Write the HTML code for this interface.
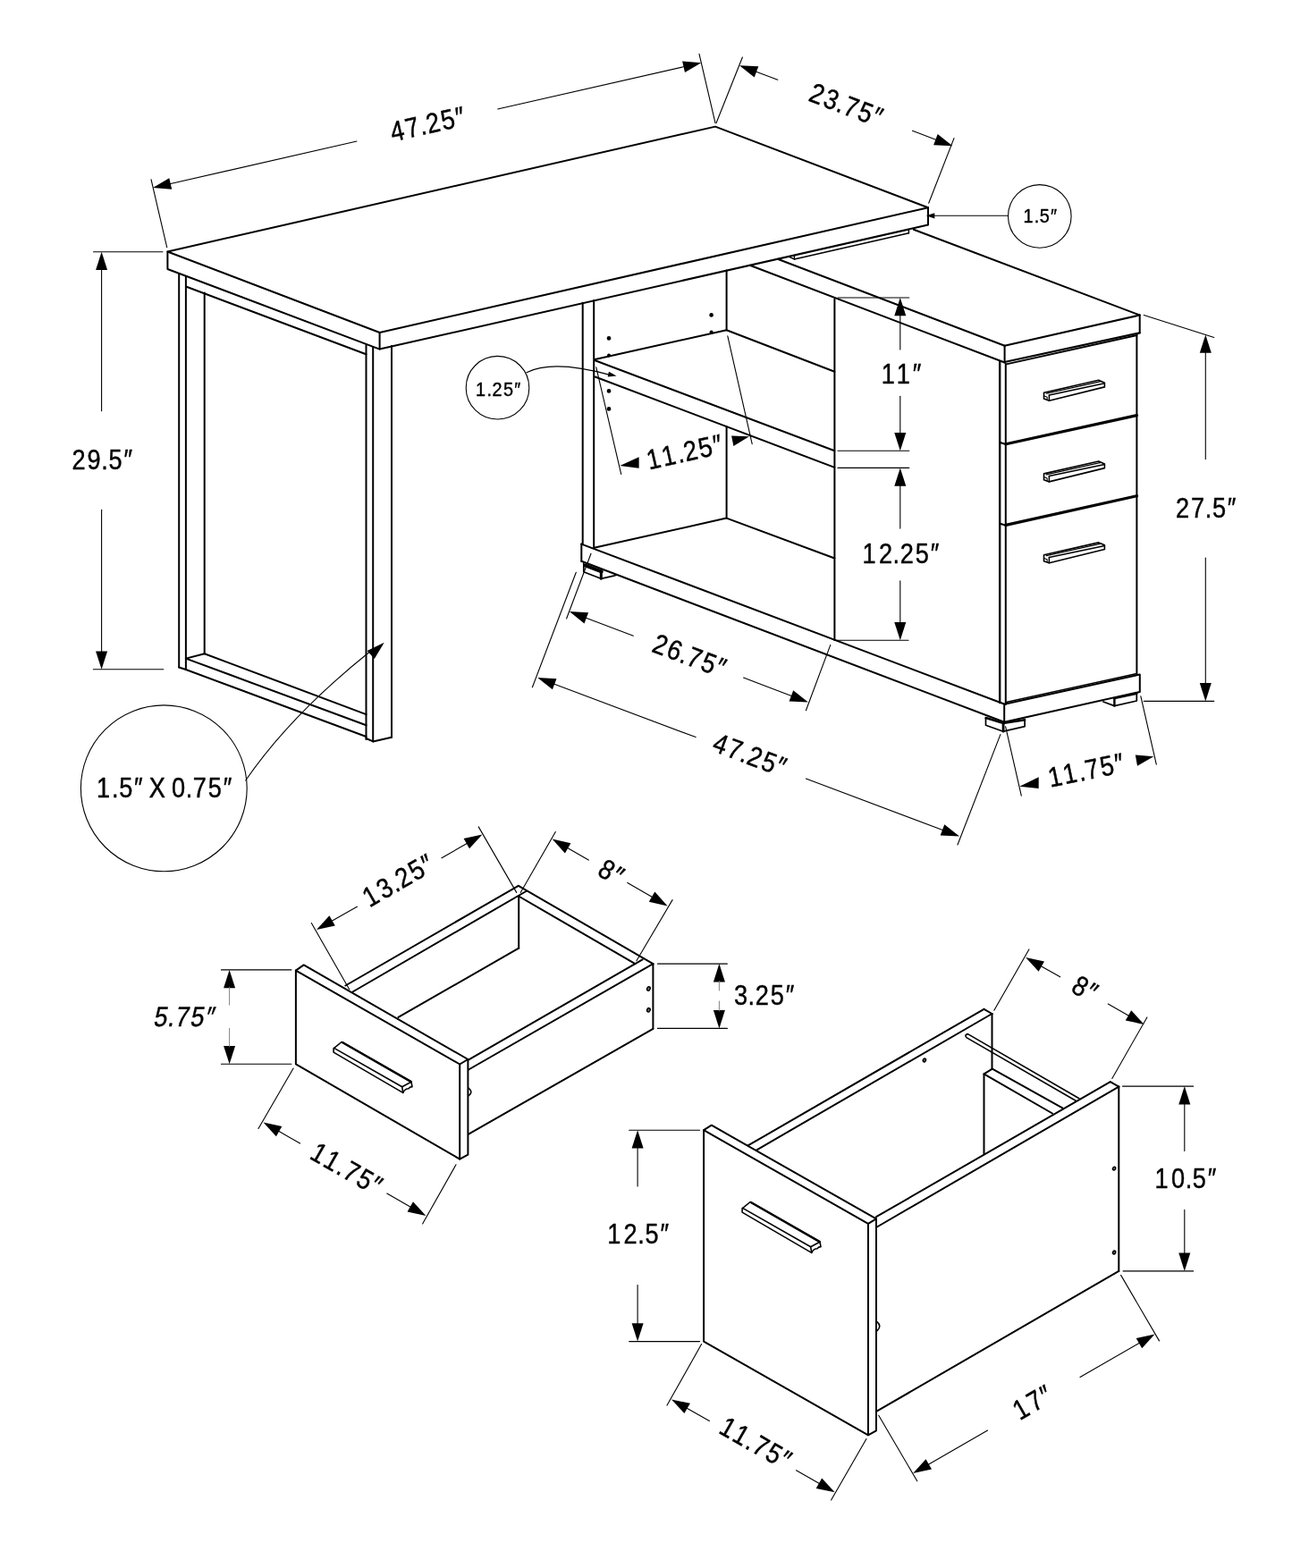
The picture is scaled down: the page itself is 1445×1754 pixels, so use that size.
<!DOCTYPE html>
<html lang="en"><head><meta charset="utf-8"><title>Desk dimensions</title>
<style>
html,body{margin:0;padding:0;background:#fff}
svg{display:block;will-change:transform}
text{font-family:"Liberation Sans",sans-serif;fill:#000;stroke:#000;stroke-width:0.45px}
</style></head>
<body>
<svg width="1445" height="1754" viewBox="0 0 1445 1754" fill="none" stroke="#000" stroke-linecap="round" stroke-linejoin="round">
<rect width="1445" height="1754" fill="#fff" stroke="none"/>
<path d="M187.4 281.5 L800 141.6 L1038 232.2 L424.6 372 Z" stroke-width="2" fill="none"/>
<path d="M187.4 281.5 L187.4 301 L424.6 390.6 L1038 251.6 L1038 232.2" stroke-width="2" fill="none"/>
<line x1="424.6" y1="372" x2="424.6" y2="390.6" stroke-width="2"/>
<line x1="200.2" y1="306" x2="200.2" y2="746.5" stroke-width="2"/>
<line x1="207.9" y1="309" x2="207.9" y2="749" stroke-width="2"/>
<line x1="228.7" y1="327.5" x2="228.7" y2="731.3" stroke-width="2"/>
<line x1="207.9" y1="320.5" x2="409.4" y2="396.3" stroke-width="2"/>
<line x1="409.5" y1="386" x2="409.5" y2="827" stroke-width="2"/>
<line x1="417.2" y1="388.2" x2="417.2" y2="829.4" stroke-width="2"/>
<line x1="438" y1="387" x2="438" y2="824.7" stroke-width="2"/>
<line x1="228.7" y1="731.2" x2="409.5" y2="799.1" stroke-width="2"/>
<line x1="207.9" y1="736.6" x2="409.5" y2="811.3" stroke-width="2"/>
<line x1="207.9" y1="749" x2="409.5" y2="824" stroke-width="2"/>
<line x1="200.2" y1="746.5" x2="207.9" y2="749" stroke-width="2"/>
<line x1="207.9" y1="736.6" x2="228.7" y2="731.2" stroke-width="2"/>
<path d="M409.5 826 L417.2 829.4 L438 824.7" stroke-width="2" fill="none"/>
<circle cx="183.3" cy="881.8" r="92.9" stroke-width="1.1" fill="none"/>
<text transform="translate(184.2 881.2) rotate(0) scale(0.87 1)" x="-87.6 -68.1 -58.7 -39.3 -28.2 -20.2 -0 8.9 27 36.4 55.9 75.3" y="10.7" font-size="31.2">1.5″ X 0.75″</text>
<path d="M274.7 873 Q325 800 413 729.5" stroke-width="1.1" fill="none"/>
<path d="M429.7 718.7 L418.8 736.9 L410.6 727.9 Z" fill="#000" stroke="none"/>
<line x1="104.5" y1="281.7" x2="182" y2="281.7" stroke-width="1.1"/>
<line x1="104.3" y1="748.8" x2="182.8" y2="748.8" stroke-width="1.1"/>
<path d="M113.6 281.7 L120.1 302 L107.1 302 Z" fill="#000" stroke="none"/>
<path d="M113.6 748.8 L107.1 728.5 L120.1 728.5 Z" fill="#000" stroke="none"/>
<line x1="113.6" y1="301" x2="113.6" y2="459.8" stroke-width="1.1"/>
<line x1="113.6" y1="570.2" x2="113.6" y2="729.5" stroke-width="1.1"/>
<text transform="translate(114.2 514.2) rotate(0) scale(0.87 1)" x="-38.6 -19.1 -1 8.4 27.8" y="10.7" font-size="31.2">29.5″</text>
<line x1="169" y1="200.7" x2="186.7" y2="276.7" stroke-width="1.1"/>
<line x1="782" y1="60.4" x2="800" y2="137.7" stroke-width="1.1"/>
<path d="M171 210 L189.3 199.2 L192.2 211.8 Z" fill="#000" stroke="none"/>
<path d="M784.3 70.2 L766 81 L763.1 68.4 Z" fill="#000" stroke="none"/>
<line x1="189.8" y1="205.7" x2="399" y2="158" stroke-width="1.1"/>
<line x1="556.7" y1="122" x2="765.5" y2="74.5" stroke-width="1.1"/>
<text transform="translate(478 138.8) rotate(-12.8) scale(0.87 1)" x="-48.4 -28.8 -10.8 -1.4 18.2 37.6" y="10.7" font-size="31.2">47.25″</text>
<line x1="830.4" y1="64" x2="801" y2="137.7" stroke-width="1.1"/>
<line x1="1067" y1="154.6" x2="1038.7" y2="227.3" stroke-width="1.1"/>
<path d="M827 73.2 L848.3 74.3 L843.7 86.5 Z" fill="#000" stroke="none"/>
<path d="M1065.4 163.3 L1044.1 162.2 L1048.7 150 Z" fill="#000" stroke="none"/>
<line x1="845.1" y1="80" x2="869.8" y2="89.2" stroke-width="1.1"/>
<line x1="1020.5" y1="146.3" x2="1047.3" y2="156.5" stroke-width="1.1"/>
<text transform="translate(946.2 117.3) rotate(20.8) scale(0.87 1)" x="-48.4 -28.8 -10.8 -1.4 18.2 37.6" y="10.7" font-size="31.2">23.75″</text>
<circle cx="1162.8" cy="241.9" r="35.3" stroke-width="1.1" fill="none"/>
<text transform="translate(1163.6 241.6) rotate(0) scale(0.87 1)" x="-22.1 -7.9 -1 13.2" y="7.8" font-size="22.8">1.5″</text>
<line x1="1127.4" y1="241.3" x2="1043" y2="241.3" stroke-width="1.1"/>
<path d="M1035.8 241.3 L1045.3 238.2 L1045.3 244.4 Z" fill="#000" stroke="none"/>
<line x1="888.4" y1="289.9" x2="1016.4" y2="260.8" stroke-width="1.5"/>
<line x1="882" y1="287" x2="888.4" y2="289.9" stroke-width="1.5"/>
<line x1="1016.4" y1="256.5" x2="1016.4" y2="260.8" stroke-width="1.5"/>
<line x1="888.4" y1="286.3" x2="888.4" y2="289.9" stroke-width="1.3"/>
<line x1="1021.8" y1="256.7" x2="1274.7" y2="352.5" stroke-width="2"/>
<line x1="1274.7" y1="352.5" x2="1274.7" y2="372.3" stroke-width="2"/>
<line x1="1123.6" y1="386.8" x2="1123.6" y2="405.5" stroke-width="2"/>
<line x1="1123.6" y1="386.8" x2="1274.7" y2="352.5" stroke-width="2"/>
<line x1="1123.5" y1="405" x2="1274.7" y2="372.3" stroke-width="2.3"/>
<line x1="1125.6" y1="407.4" x2="1271.6" y2="375" stroke-width="1.8"/>
<line x1="869.8" y1="289.7" x2="1123.6" y2="386.8" stroke-width="2"/>
<line x1="838.7" y1="296.8" x2="1123.6" y2="405.5" stroke-width="2"/>
<line x1="651.7" y1="338.8" x2="651.7" y2="608.6" stroke-width="2"/>
<line x1="664.2" y1="336" x2="664.2" y2="612.6" stroke-width="2"/>
<line x1="812.6" y1="302.6" x2="812.6" y2="369.2" stroke-width="2"/>
<line x1="812.6" y1="477.2" x2="812.6" y2="579.6" stroke-width="2"/>
<line x1="665.6" y1="402.1" x2="812.6" y2="369.2" stroke-width="2"/>
<line x1="812.6" y1="369.2" x2="933.4" y2="415.8" stroke-width="2"/>
<line x1="665.6" y1="403.3" x2="933.4" y2="504.2" stroke-width="2"/>
<line x1="665.6" y1="421.5" x2="933.4" y2="522.9" stroke-width="2"/>
<circle cx="681" cy="378.4" r="2.3" fill="#000" stroke="none"/>
<circle cx="681" cy="437.4" r="2.3" fill="#000" stroke="none"/>
<circle cx="681" cy="457.4" r="2.3" fill="#000" stroke="none"/>
<circle cx="795.6" cy="352.4" r="2.3" fill="#000" stroke="none"/>
<circle cx="681" cy="397.6" r="2" fill="#000" stroke="none"/>
<circle cx="795.6" cy="371.6" r="2" fill="#000" stroke="none"/>
<line x1="933.4" y1="334.8" x2="933.4" y2="716" stroke-width="2"/>
<path d="M665.6 612.6 L812.6 579.6 L933.4 624.5" stroke-width="2" fill="none"/>
<line x1="650.3" y1="608.6" x2="1123" y2="787.5" stroke-width="2"/>
<line x1="650.3" y1="627.8" x2="1123.2" y2="807.8" stroke-width="2"/>
<line x1="650.3" y1="608.6" x2="650.3" y2="627.8" stroke-width="2"/>
<path d="M652.8 629.9 L652.8 639.8 L672.2 647.3 L686.4 644.2 L689.4 643.2" stroke-width="1.7" fill="none"/>
<line x1="654.5" y1="632.5" x2="672.8" y2="639.3" stroke-width="4"/>
<line x1="672.3" y1="639.3" x2="672.3" y2="647.3" stroke-width="3"/>
<circle cx="556.5" cy="433.7" r="35.3" stroke-width="1.1" fill="none"/>
<text transform="translate(557.5 434.9) rotate(0) scale(0.87 1)" x="-29.3 -15 -8.2 6.2 20.3" y="7.8" font-size="22.8">1.25″</text>
<path d="M588.9 416.7 C605 408.5 632 405.5 683 419.6" stroke-width="1.1" fill="none"/>
<path d="M689.6 420.6 L679.7 421.6 L680.9 415.7 Z" fill="#000" stroke="none"/>
<line x1="666.8" y1="410.8" x2="694.7" y2="530.4" stroke-width="1.1"/>
<path d="M693.3 521.1 L714.6 511.2 L714.6 523.7 Z" fill="#000" stroke="none"/>
<path d="M837.9 488.3 L818.1 487.6 L820.4 499 Z" fill="#000" stroke="none"/>
<line x1="813.8" y1="375.9" x2="841.2" y2="496.7" stroke-width="1.1"/>
<text transform="translate(766 505.5) rotate(-12.8) scale(0.87 1)" x="-49.9 -30.3 -10.8 -1.4 18.2 37.6" y="10.7" font-size="31.2">11.25″</text>
<line x1="937" y1="333" x2="1016.8" y2="333" stroke-width="1.1"/>
<line x1="937" y1="504.2" x2="1016.8" y2="504.2" stroke-width="1.1"/>
<line x1="937" y1="523.4" x2="1016.8" y2="523.4" stroke-width="1.1"/>
<line x1="933.4" y1="716.2" x2="1016" y2="716.2" stroke-width="1.1"/>
<path d="M1006.8 333 L1013.3 353.3 L1000.3 353.3 Z" fill="#000" stroke="none"/>
<path d="M1006.8 504.2 L1000.3 483.9 L1013.3 483.9 Z" fill="#000" stroke="none"/>
<line x1="1006.8" y1="352.3" x2="1006.8" y2="390.9" stroke-width="1.1"/>
<line x1="1006.8" y1="443.2" x2="1006.8" y2="484.9" stroke-width="1.1"/>
<text transform="translate(1008.5 418.4) rotate(0) scale(0.87 1)" x="-26.3 -6.7 14.1" y="10.7" font-size="31.2">11″</text>
<path d="M1006.8 523.4 L1013.3 543.7 L1000.3 543.7 Z" fill="#000" stroke="none"/>
<path d="M1006.8 716.2 L1000.3 695.9 L1013.3 695.9 Z" fill="#000" stroke="none"/>
<line x1="1006.8" y1="542.7" x2="1006.8" y2="591.1" stroke-width="1.1"/>
<line x1="1006.8" y1="649.7" x2="1006.8" y2="696.9" stroke-width="1.1"/>
<text transform="translate(1008 619.2) rotate(0) scale(0.87 1)" x="-49.9 -28.8 -10.8 -1.4 18.2 37.6" y="10.7" font-size="31.2">12.25″</text>
<line x1="1118.2" y1="405" x2="1118.2" y2="786" stroke-width="2.4"/>
<line x1="1124.8" y1="407" x2="1124.8" y2="788" stroke-width="2"/>
<line x1="1271.4" y1="374.4" x2="1271.4" y2="754" stroke-width="2"/>
<line x1="1125" y1="496.7" x2="1271.4" y2="464.6" stroke-width="3.2"/>
<line x1="1125" y1="587.4" x2="1271.4" y2="554.7" stroke-width="3.2"/>
<line x1="1118.5" y1="495" x2="1125" y2="497" stroke-width="2.2"/>
<line x1="1118.5" y1="585.7" x2="1125" y2="587.7" stroke-width="2.2"/>
<line x1="1125.3" y1="785.6" x2="1271.4" y2="753.5" stroke-width="1.5"/>
<path d="M1167.5 439.2 L1228.7 425.3 L1235.4 428.2 L1235.4 432.9 L1173.4 448.2 L1167.5 446.1 Z" stroke-width="1.6" fill="none"/>
<line x1="1173.4" y1="441.9" x2="1235.4" y2="428.8" stroke-width="1.5"/>
<line x1="1170.3" y1="440.1" x2="1231.2" y2="426.6" stroke-width="1.3"/>
<line x1="1173.4" y1="441.9" x2="1173.4" y2="448.2" stroke-width="1.5"/>
<path d="M1167.5 442.8 L1171.1 444.2 L1171.1 446.9" stroke-width="1.1" fill="none"/>
<path d="M1167.5 529.9 L1228.7 516 L1235.4 518.9 L1235.4 523.6 L1173.4 538.9 L1167.5 536.8 Z" stroke-width="1.6" fill="none"/>
<line x1="1173.4" y1="532.6" x2="1235.4" y2="519.5" stroke-width="1.5"/>
<line x1="1170.3" y1="530.8" x2="1231.2" y2="517.3" stroke-width="1.3"/>
<line x1="1173.4" y1="532.6" x2="1173.4" y2="538.9" stroke-width="1.5"/>
<path d="M1167.5 533.5 L1171.1 534.9 L1171.1 537.6" stroke-width="1.1" fill="none"/>
<path d="M1167.5 620.8 L1228.7 606.9 L1235.4 609.8 L1235.4 614.5 L1173.4 629.8 L1167.5 627.7 Z" stroke-width="1.6" fill="none"/>
<line x1="1173.4" y1="623.5" x2="1235.4" y2="610.4" stroke-width="1.5"/>
<line x1="1170.3" y1="621.7" x2="1231.2" y2="608.2" stroke-width="1.3"/>
<line x1="1173.4" y1="623.5" x2="1173.4" y2="629.8" stroke-width="1.5"/>
<path d="M1167.5 624.4 L1171.1 625.8 L1171.1 628.5" stroke-width="1.1" fill="none"/>
<path d="M1123.2 787.8 L1274.8 754.5 L1274.8 773.9 L1123.2 807.8 Z" stroke-width="2" fill="none"/>
<path d="M1102.5 803 L1102.5 811.3 L1122.1 818.2 L1146.1 812.7 L1146.1 806.2" stroke-width="1.7" fill="none"/>
<line x1="1102.7" y1="803.1" x2="1122.4" y2="809.1" stroke-width="2.6"/>
<line x1="1123.2" y1="808.8" x2="1146.1" y2="805.2" stroke-width="2.6"/>
<line x1="1122.1" y1="808.9" x2="1122.1" y2="818.2" stroke-width="2.8"/>
<path d="M1233.9 785 L1246.4 789.6 L1271.3 784 L1271.3 776.3" stroke-width="1.7" fill="none"/>
<line x1="1246.4" y1="781.2" x2="1246.4" y2="789.6" stroke-width="2.4"/>
<line x1="1246.4" y1="781" x2="1271.3" y2="775.7" stroke-width="2.6"/>
<line x1="1279.3" y1="352.5" x2="1357.8" y2="377.4" stroke-width="1.1"/>
<line x1="1279.3" y1="784.4" x2="1357.8" y2="784.4" stroke-width="1.1"/>
<path d="M1348.3 374.4 L1354.8 394.7 L1341.8 394.7 Z" fill="#000" stroke="none"/>
<path d="M1348.3 784.4 L1341.8 764.1 L1354.8 764.1 Z" fill="#000" stroke="none"/>
<line x1="1348.3" y1="393.7" x2="1348.3" y2="513.6" stroke-width="1.1"/>
<line x1="1348.3" y1="624" x2="1348.3" y2="765.1" stroke-width="1.1"/>
<text transform="translate(1348.6 568) rotate(0) scale(0.87 1)" x="-38.6 -19.1 -1 8.4 27.8" y="10.7" font-size="31.2">27.5″</text>
<line x1="661" y1="619.3" x2="633.6" y2="692" stroke-width="1.1"/>
<line x1="644.3" y1="640.2" x2="595.4" y2="768.8" stroke-width="1.1"/>
<line x1="928.8" y1="721.4" x2="901.4" y2="794.7" stroke-width="1.1"/>
<path d="M636.8 684.1 L658.1 685.2 L653.5 697.4 Z" fill="#000" stroke="none"/>
<path d="M903.9 785.5 L882.6 784.4 L887.2 772.2 Z" fill="#000" stroke="none"/>
<line x1="654.8" y1="690.9" x2="708.3" y2="711.2" stroke-width="1.1"/>
<line x1="831.6" y1="758.1" x2="885.9" y2="778.7" stroke-width="1.1"/>
<text transform="translate(771 733.5) rotate(20.8) scale(0.87 1)" x="-48.4 -28.8 -10.8 -1.4 18.2 37.6" y="10.7" font-size="31.2">26.75″</text>
<line x1="1118.9" y1="821.6" x2="1071" y2="945" stroke-width="1.1"/>
<path d="M601.2 758.1 L622.5 759.2 L617.9 771.3 Z" fill="#000" stroke="none"/>
<path d="M1073 935.5 L1051.7 934.4 L1056.3 922.3 Z" fill="#000" stroke="none"/>
<line x1="619.3" y1="764.9" x2="778.1" y2="824.6" stroke-width="1.1"/>
<line x1="901.4" y1="871" x2="1054.9" y2="928.7" stroke-width="1.1"/>
<text transform="translate(838.5 844.3) rotate(20.6) scale(0.87 1)" x="-48.4 -28.8 -10.8 -1.4 18.2 37.6" y="10.7" font-size="31.2">47.25″</text>
<line x1="1124.6" y1="812.7" x2="1142.3" y2="890.1" stroke-width="1.1"/>
<line x1="1275.8" y1="778.7" x2="1293.3" y2="855.2" stroke-width="1.1"/>
<path d="M1140.3 879.8 L1161.7 869.2 L1161.7 882.1 Z" fill="#000" stroke="none"/>
<path d="M1290.3 846.3 L1269.8 844.5 L1272 856.7 Z" fill="#000" stroke="none"/>
<text transform="translate(1215 861.5) rotate(-11.7) scale(0.87 1)" x="-49.9 -30.3 -10.8 -1.4 18.2 37.6" y="10.7" font-size="31.2">11.75″</text>
<path d="M330.9 1085.6 L514.2 1190.5 L514.2 1296.6 L330.9 1190.4 Z" stroke-width="2" fill="none"/>
<path d="M330.9 1085.6 L339.7 1079.4 L523.4 1185 L523.4 1291.6 L514.2 1296.6" stroke-width="2" fill="none"/>
<line x1="514.2" y1="1190.5" x2="523.4" y2="1185" stroke-width="2"/>
<path d="M373.1 1172.9 L382.1 1165.5 L459.9 1209.9 L461 1215.6 Q458 1215.8 456.9 1217.8 Q453 1217.8 450.7 1222.4 L373.1 1177.1 Z" stroke-width="1.6" fill="none"/>
<path d="M373.6 1172.4 L449.7 1215.8 L450.7 1222.4 M449.7 1215.8 L459.9 1210.2" stroke-width="1.6" fill="none"/>
<line x1="383.3" y1="1166.3" x2="459.4" y2="1209.9" stroke-width="2.4"/>
<line x1="386.4" y1="1102.5" x2="579.8" y2="990.8" stroke-width="2"/>
<line x1="394.4" y1="1109.5" x2="588.4" y2="997" stroke-width="2"/>
<line x1="445.5" y1="1137.9" x2="580.2" y2="1060.7" stroke-width="2"/>
<line x1="580.2" y1="1002.6" x2="580.2" y2="1060.7" stroke-width="2"/>
<line x1="579.8" y1="990.8" x2="730.4" y2="1078.2" stroke-width="2"/>
<line x1="580.1" y1="1002.5" x2="710.4" y2="1078.2" stroke-width="2"/>
<line x1="524.1" y1="1196.5" x2="730.4" y2="1078.2" stroke-width="2"/>
<line x1="523.4" y1="1185.8" x2="718.6" y2="1073.4" stroke-width="2"/>
<line x1="524.1" y1="1268.7" x2="730.4" y2="1150.8" stroke-width="2"/>
<line x1="730.4" y1="1078.2" x2="730.4" y2="1150.8" stroke-width="2"/>
<ellipse cx="725.4" cy="1106" rx="1.7" ry="2.2" transform="rotate(25 725.4 1106)" stroke-width="1.5" fill="#777"/>
<ellipse cx="725.4" cy="1129.8" rx="1.7" ry="2.2" transform="rotate(25 725.4 1129.8)" stroke-width="1.5" fill="#777"/>
<path d="M524.3 1217.3 Q529.5 1221.5 524.3 1225.5" stroke-width="1.6" fill="none"/>
<line x1="348.3" y1="1032.5" x2="390.7" y2="1106.8" stroke-width="1.1"/>
<line x1="535.2" y1="924.9" x2="577.7" y2="998.4" stroke-width="1.1"/>
<path d="M354 1040 L368.4 1024.3 L374.8 1035.5 Z" fill="#000" stroke="none"/>
<path d="M539.4 933.6 L525 949.3 L518.6 938.1 Z" fill="#000" stroke="none"/>
<line x1="370.7" y1="1030.4" x2="399.4" y2="1014.2" stroke-width="1.1"/>
<line x1="494" y1="959.8" x2="522.7" y2="943.2" stroke-width="1.1"/>
<text transform="translate(445.5 984.7) rotate(-29.9) scale(0.87 1)" x="-49.9 -28.8 -10.8 -1.4 18.2 37.6" y="10.7" font-size="31.2">13.25″</text>
<line x1="621.3" y1="930.4" x2="582.2" y2="998.4" stroke-width="1.1"/>
<line x1="752.1" y1="1006.6" x2="711.9" y2="1074.8" stroke-width="1.1"/>
<path d="M617.6 938.6 L638.4 943.2 L631.9 954.4 Z" fill="#000" stroke="none"/>
<path d="M746.6 1013.4 L725.8 1008.8 L732.3 997.6 Z" fill="#000" stroke="none"/>
<line x1="634.3" y1="948.3" x2="658.2" y2="962.1" stroke-width="1.1"/>
<line x1="701.8" y1="987.4" x2="729.9" y2="1003.7" stroke-width="1.1"/>
<text transform="translate(683.5 975.5) rotate(30.1) scale(0.87 1)" x="-15.1 4.3" y="10.7" font-size="31.2">8″</text>
<line x1="735.4" y1="1078.1" x2="813.4" y2="1078.1" stroke-width="1.1"/>
<line x1="735.4" y1="1150.4" x2="813.4" y2="1150.4" stroke-width="1.1"/>
<path d="M804.4 1078.1 L810.9 1098.4 L797.9 1098.4 Z" fill="#000" stroke="none"/>
<path d="M804.4 1150.4 L797.9 1130.1 L810.9 1130.1 Z" fill="#000" stroke="none"/>
<line x1="804.4" y1="1097.4" x2="804.4" y2="1108" stroke-width="0.9" stroke="#777"/>
<line x1="804.4" y1="1120" x2="804.4" y2="1131.1" stroke-width="0.9" stroke="#777"/>
<text transform="translate(854.5 1113.5) rotate(0) scale(0.87 1)" x="-38.6 -20.6 -11.2 8.4 27.8" y="10.7" font-size="31.2">3.25″</text>
<line x1="247.4" y1="1084.9" x2="325.9" y2="1084.9" stroke-width="1.1"/>
<line x1="247.4" y1="1190.2" x2="325.9" y2="1190.2" stroke-width="1.1"/>
<path d="M256.6 1084.9 L263.1 1105.2 L250.1 1105.2 Z" fill="#000" stroke="none"/>
<path d="M256.6 1190.2 L250.1 1169.9 L263.1 1169.9 Z" fill="#000" stroke="none"/>
<line x1="256.6" y1="1104.2" x2="256.6" y2="1124.2" stroke-width="0.9" stroke="#777"/>
<line x1="256.6" y1="1150.4" x2="256.6" y2="1170.9" stroke-width="0.9" stroke="#777"/>
<text transform="translate(206.5 1136.8) rotate(0) skewX(-10) scale(0.87 1)" x="-38.6 -20.6 -11.2 8.4 27.8" y="10.7" font-size="31.2">5.75″</text>
<line x1="328.1" y1="1195" x2="289" y2="1262.5" stroke-width="1.1"/>
<line x1="510" y1="1302.8" x2="472.6" y2="1368.9" stroke-width="1.1"/>
<path d="M294.5 1255.5 L315.3 1260 L308.9 1271.3 Z" fill="#000" stroke="none"/>
<path d="M476.4 1360.1 L455.6 1355.6 L462 1344.3 Z" fill="#000" stroke="none"/>
<line x1="311.2" y1="1265.1" x2="335.6" y2="1279.1" stroke-width="1.1"/>
<line x1="432.8" y1="1335" x2="459.7" y2="1350.5" stroke-width="1.1"/>
<text transform="translate(388 1307.5) rotate(29.9) scale(0.87 1)" x="-49.9 -30.3 -10.8 -1.4 18.2 37.6" y="10.7" font-size="31.2">11.75″</text>
<path d="M787.1 1264.2 L971 1368.9 L971 1605.3 L787.1 1500.6 Z" stroke-width="2" fill="none"/>
<path d="M787.1 1264.2 L795.8 1258.7 L980 1363.4 L980 1600.3 L971 1605.3" stroke-width="2" fill="none"/>
<line x1="971" y1="1368.9" x2="980" y2="1363.4" stroke-width="2"/>
<path d="M830.1 1351.9 L839.1 1344.5 L916.9 1388.9 L918 1394.6 Q915 1394.8 913.9 1396.8 Q910 1396.8 907.7 1401.4 L830.1 1356.1 Z" stroke-width="1.6" fill="none"/>
<path d="M830.6 1351.4 L906.7 1394.8 L907.7 1401.4 M906.7 1394.8 L916.9 1389.2" stroke-width="1.6" fill="none"/>
<line x1="840.3" y1="1345.3" x2="916.4" y2="1388.9" stroke-width="2.4"/>
<line x1="837" y1="1281.2" x2="1100.5" y2="1128.8" stroke-width="2"/>
<line x1="846.4" y1="1286.3" x2="1109.5" y2="1134" stroke-width="2"/>
<line x1="1100.5" y1="1128.8" x2="1109.5" y2="1134" stroke-width="2"/>
<line x1="1109.5" y1="1134" x2="1109.5" y2="1195.5" stroke-width="2"/>
<ellipse cx="1033.9" cy="1186" rx="1.5" ry="1.9" transform="rotate(25 1033.9 1186)" stroke-width="1.5" fill="#777"/>
<path d="M1206.9 1228.7 L1082.4 1156.6 Q1078.3 1157.6 1080.9 1160.6 L1203.1 1231.2" stroke-width="1.6" fill="none"/>
<path d="M1100.5 1290.4 L1100.5 1201.4 L1109.8 1195.7 L1188.2 1239.3" stroke-width="2" fill="none"/>
<line x1="1100.5" y1="1201.4" x2="1177" y2="1245.5" stroke-width="2"/>
<line x1="980" y1="1361.2" x2="1241.8" y2="1210.2" stroke-width="2"/>
<line x1="980" y1="1373" x2="1251.3" y2="1215.6" stroke-width="2"/>
<line x1="1241.8" y1="1210.2" x2="1251.3" y2="1215.6" stroke-width="2"/>
<line x1="1251.3" y1="1215.6" x2="1251.3" y2="1421.9" stroke-width="2"/>
<line x1="981" y1="1578.4" x2="1251.3" y2="1421.9" stroke-width="2"/>
<ellipse cx="1246.1" cy="1307.1" rx="1.5" ry="1.9" transform="rotate(25 1246.1 1307.1)" stroke-width="1.5" fill="#777"/>
<ellipse cx="1246.1" cy="1401" rx="1.5" ry="1.9" transform="rotate(25 1246.1 1401)" stroke-width="1.5" fill="#777"/>
<path d="M981 1478.7 Q986.5 1483.5 981 1488.7" stroke-width="1.6" fill="none"/>
<line x1="703.7" y1="1264.2" x2="782.6" y2="1264.2" stroke-width="1.1"/>
<line x1="703.7" y1="1500.6" x2="782.6" y2="1500.6" stroke-width="1.1"/>
<path d="M713.1 1264.2 L719.6 1284.5 L706.6 1284.5 Z" fill="#000" stroke="none"/>
<path d="M713.1 1500.6 L706.6 1480.3 L719.6 1480.3 Z" fill="#000" stroke="none"/>
<line x1="713.1" y1="1283.5" x2="713.1" y2="1327" stroke-width="1.1"/>
<line x1="713.1" y1="1437.6" x2="713.1" y2="1481.3" stroke-width="1.1"/>
<text transform="translate(714.2 1380.7) rotate(0) scale(0.87 1)" x="-40.1 -19.1 -1 8.4 27.8" y="10.7" font-size="31.2">12.5″</text>
<line x1="1150.9" y1="1061.9" x2="1111.8" y2="1130.2" stroke-width="1.1"/>
<line x1="1282.9" y1="1137.9" x2="1243.8" y2="1206.4" stroke-width="1.1"/>
<path d="M1147.1 1071.1 L1168 1075.4 L1161.6 1086.7 Z" fill="#000" stroke="none"/>
<path d="M1279.7 1145.9 L1258.8 1141.6 L1265.2 1130.3 Z" fill="#000" stroke="none"/>
<line x1="1163.9" y1="1080.6" x2="1185.7" y2="1092.8" stroke-width="1.1"/>
<line x1="1239.3" y1="1123.1" x2="1262.9" y2="1136.4" stroke-width="1.1"/>
<text transform="translate(1213.3 1105.8) rotate(29.4) scale(0.87 1)" x="-15.1 4.3" y="10.7" font-size="31.2">8″</text>
<line x1="1255.5" y1="1215.1" x2="1334.7" y2="1215.1" stroke-width="1.1"/>
<line x1="1256.1" y1="1421.9" x2="1334.6" y2="1421.9" stroke-width="1.1"/>
<path d="M1324.8 1215.1 L1331.3 1235.4 L1318.3 1235.4 Z" fill="#000" stroke="none"/>
<path d="M1324.8 1421.9 L1318.3 1401.6 L1331.3 1401.6 Z" fill="#000" stroke="none"/>
<line x1="1324.8" y1="1234.4" x2="1324.8" y2="1287.4" stroke-width="1.1"/>
<line x1="1324.8" y1="1353.4" x2="1324.8" y2="1402.6" stroke-width="1.1"/>
<text transform="translate(1326.5 1318.2) rotate(0) scale(0.87 1)" x="-40.1 -19.1 -1 8.4 27.8" y="10.7" font-size="31.2">10.5″</text>
<line x1="784.6" y1="1503.6" x2="746" y2="1572.1" stroke-width="1.1"/>
<line x1="969" y1="1609.5" x2="929.6" y2="1678" stroke-width="1.1"/>
<path d="M751 1565.4 L771.9 1569.8 L765.4 1581.1 Z" fill="#000" stroke="none"/>
<path d="M933.6 1669.3 L912.7 1664.9 L919.2 1653.6 Z" fill="#000" stroke="none"/>
<line x1="767.8" y1="1574.9" x2="793.4" y2="1589.5" stroke-width="1.1"/>
<line x1="890.5" y1="1644.8" x2="916.8" y2="1659.8" stroke-width="1.1"/>
<text transform="translate(845.5 1614.5) rotate(29.6) scale(0.87 1)" x="-49.9 -30.3 -10.8 -1.4 18.2 37.6" y="10.7" font-size="31.2">11.75″</text>
<line x1="982.7" y1="1583.3" x2="1025.8" y2="1656.8" stroke-width="1.1"/>
<line x1="1253.6" y1="1426.4" x2="1296.5" y2="1499.9" stroke-width="1.1"/>
<path d="M1021.2 1648.1 L1035.5 1632.3 L1042 1643.6 Z" fill="#000" stroke="none"/>
<path d="M1291.5 1492.4 L1277.2 1508.2 L1270.7 1496.9 Z" fill="#000" stroke="none"/>
<line x1="1037.9" y1="1638.5" x2="1104.6" y2="1600.1" stroke-width="1.1"/>
<line x1="1208" y1="1540.5" x2="1274.8" y2="1502" stroke-width="1.1"/>
<text transform="translate(1155 1568.5) rotate(-29.9) scale(0.87 1)" x="-26.3 -5.3 14.1" y="10.7" font-size="31.2">17″</text>
</svg>
</body></html>
